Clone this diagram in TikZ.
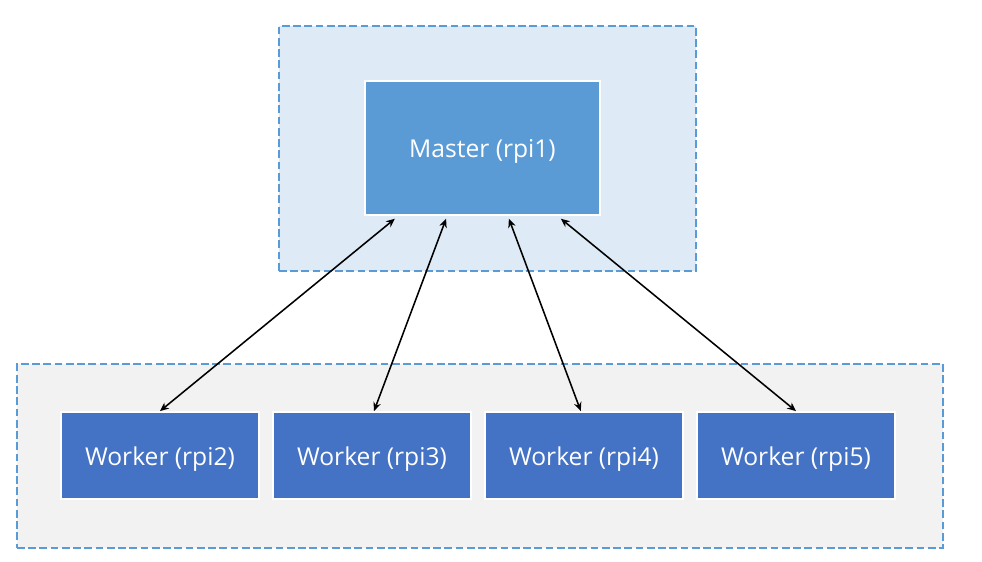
\documentclass[tikz,border=0pt]{standalone}
\usepackage{fontspec}
\setmainfont{Open Sans}
\usepackage{xcolor}
\usepackage{tikz}
\usetikzlibrary{arrows.meta, positioning, calc}
\definecolor{zoneblue}{HTML}{DEEBF7}
\definecolor{zonegray}{HTML}{F2F2F2}
\definecolor{zoneline}{HTML}{5B9BD5}
\definecolor{masterfill}{HTML}{5B9BD5}
\definecolor{workerfill}{HTML}{4472C4}

\begin{document}
\begin{tikzpicture}[
    zone/.style={draw=zoneline, line width=1.3pt, dash pattern=on 5.5pt off 2.5pt, inner sep=0pt},
    box/.style={draw=white, line width=1.3pt, text=white, align=center, font=\fontsize{17.5}{21}\selectfont, inner sep=0pt, text height=14pt, text depth=0pt},
    arrow/.style={{Stealth[length=2.2mm, width=1.9mm]}-{Stealth[length=2.2mm, width=1.9mm]}, line width=1.1pt}
]
    \useasboundingbox (0, 0) rectangle (24.55, 14.05);
    \fill[white] (0, 0) rectangle (24.55, 14.05);

    \node[zone, fill=zoneblue, minimum width=10.425cm, minimum height=6.125cm] (masterzone) at (12.1875, 10.3375) {};
    \node[zone, fill=zonegray, minimum width=23.15cm, minimum height=4.6cm] (workerzone) at (12.0, 2.65) {};

    \node[box, fill=masterfill, minimum width=5.875cm, minimum height=3.35cm] (master) at (12.0625, 10.35) {Master (rpi1)};

    \node[box, fill=workerfill, minimum width=4.95cm, minimum height=2.175cm] (w2) at (4.0, 2.6625) {Worker (rpi2)};
    \node[box, fill=workerfill, minimum width=4.95cm, minimum height=2.175cm] (w3) at (9.3, 2.6625) {Worker (rpi3)};
    \node[box, fill=workerfill, minimum width=4.95cm, minimum height=2.175cm] (w4) at (14.6, 2.6625) {Worker (rpi4)};
    \node[box, fill=workerfill, minimum width=4.95cm, minimum height=2.175cm] (w5) at (19.9, 2.6625) {Worker (rpi5)};

    \draw[arrow] ([xshift=-2.19cm, yshift=-0.07cm]master.south) -- (w2.north);
    \draw[arrow] ([xshift=-0.91cm, yshift=-0.07cm]master.south) -- ([xshift=0.05cm]w3.north);
    \draw[arrow] ([xshift=0.66cm, yshift=-0.07cm]master.south) -- ([xshift=-0.08cm]w4.north);
    \draw[arrow] ([xshift=1.96cm, yshift=-0.07cm]master.south) -- (w5.north);
\end{tikzpicture}
\end{document}
